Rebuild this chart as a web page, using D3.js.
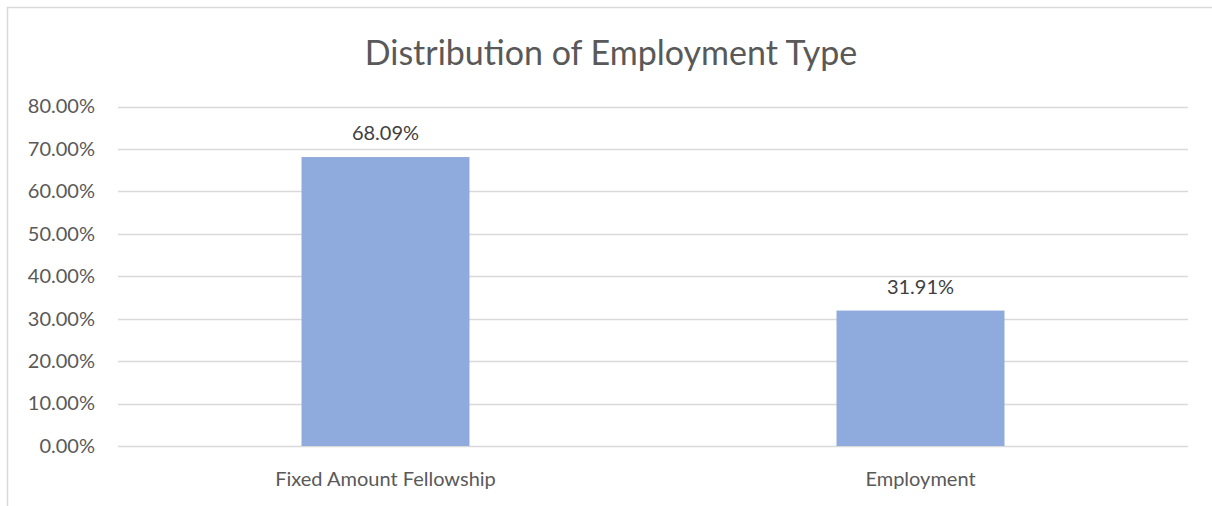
<!DOCTYPE html>
<html>
<head>
<meta charset="utf-8">
<script src="https://cdn.jsdelivr.net/npm/d3@7"></script>
<style>
  body { margin: 0; background: #fff; }
  text { font-family: Lato, "Open Sans", sans-serif; }
</style>
</head>
<body>
<div id="chart"></div>
<script>
var categories = ["Fixed Amount Fellowship", "Employment"];
var values = [0.6809, 0.3191];
var yTicks = [0, 0.1, 0.2, 0.3, 0.4, 0.5, 0.6, 0.7, 0.8];
var title = "Distribution of Employment Type";

var width = 1212, height = 506;
var svg = d3.select("#chart").append("svg")
  .attr("width", width)
  .attr("height", height);

// chart area border (right and bottom run off the picture)
svg.append("rect")
  .attr("x", 7.5).attr("y", 7.5)
  .attr("width", 1220).attr("height", 520)
  .attr("fill", "#fff")
  .attr("stroke", "#d9d9d9")
  .attr("stroke-width", 1.5);

var plot = { left: 118, right: 1188, top: 106.5, bottom: 446 };

var x = d3.scaleBand()
  .domain(categories)
  .range([plot.left, plot.right])
  .paddingInner(0.686)
  .paddingOuter(0.343);

var y = d3.scaleLinear()
  .domain([0, 0.8])
  .range([plot.bottom, plot.top]);

svg.append("text")
  .attr("x", 611)
  .attr("y", 65)
  .attr("text-anchor", "middle")
  .attr("fill", "#595959")
  .style("font-size", "34px")
  .text(title);

// gridlines
svg.append("g")
  .selectAll("line")
  .data(yTicks)
  .enter()
  .append("line")
  .attr("x1", plot.left)
  .attr("x2", plot.right)
  .attr("y1", function(d) { return Math.round(y(d)) + 0.5; })
  .attr("y2", function(d) { return Math.round(y(d)) + 0.5; })
  .attr("stroke", "#d9d9d9")
  .attr("stroke-width", 1.5);

// y axis labels
var yAxis = d3.axisLeft(y)
  .tickValues(yTicks)
  .tickFormat(function(d) { return d3.format(".2f")(d * 100) + "%"; })
  .tickSize(0)
  .tickPadding(23);

var gy = svg.append("g")
  .attr("transform", "translate(" + plot.left + ",0)")
  .call(yAxis);
gy.select(".domain").remove();
gy.selectAll("text")
  .attr("fill", "#595959")
  .style("font-size", "20px")
  .style("font-family", "Lato, 'Open Sans', sans-serif");

// bars
svg.append("g")
  .selectAll("rect")
  .data(values)
  .enter()
  .append("rect")
  .attr("x", function(d, i) { return x(categories[i]); })
  .attr("y", function(d) { return y(d); })
  .attr("width", x.bandwidth())
  .attr("height", function(d) { return plot.bottom - y(d); })
  .attr("fill", "#8faadc");

// data labels
svg.append("g")
  .selectAll("text")
  .data(values)
  .enter()
  .append("text")
  .attr("x", function(d, i) { return x(categories[i]) + x.bandwidth() / 2; })
  .attr("y", function(d) { return y(d) - 17; })
  .attr("text-anchor", "middle")
  .attr("fill", "#404040")
  .style("font-size", "20px")
  .text(function(d) { return d3.format(".2f")(d * 100) + "%"; });

// x axis labels
var xAxis = d3.axisBottom(x).tickSize(0).tickPadding(26);
var gx = svg.append("g")
  .attr("transform", "translate(0," + plot.bottom + ")")
  .call(xAxis);
gx.select(".domain").remove();
gx.selectAll("text")
  .attr("fill", "#595959")
  .style("font-size", "20px")
  .style("font-family", "Lato, 'Open Sans', sans-serif");
</script>
</body>
</html>
